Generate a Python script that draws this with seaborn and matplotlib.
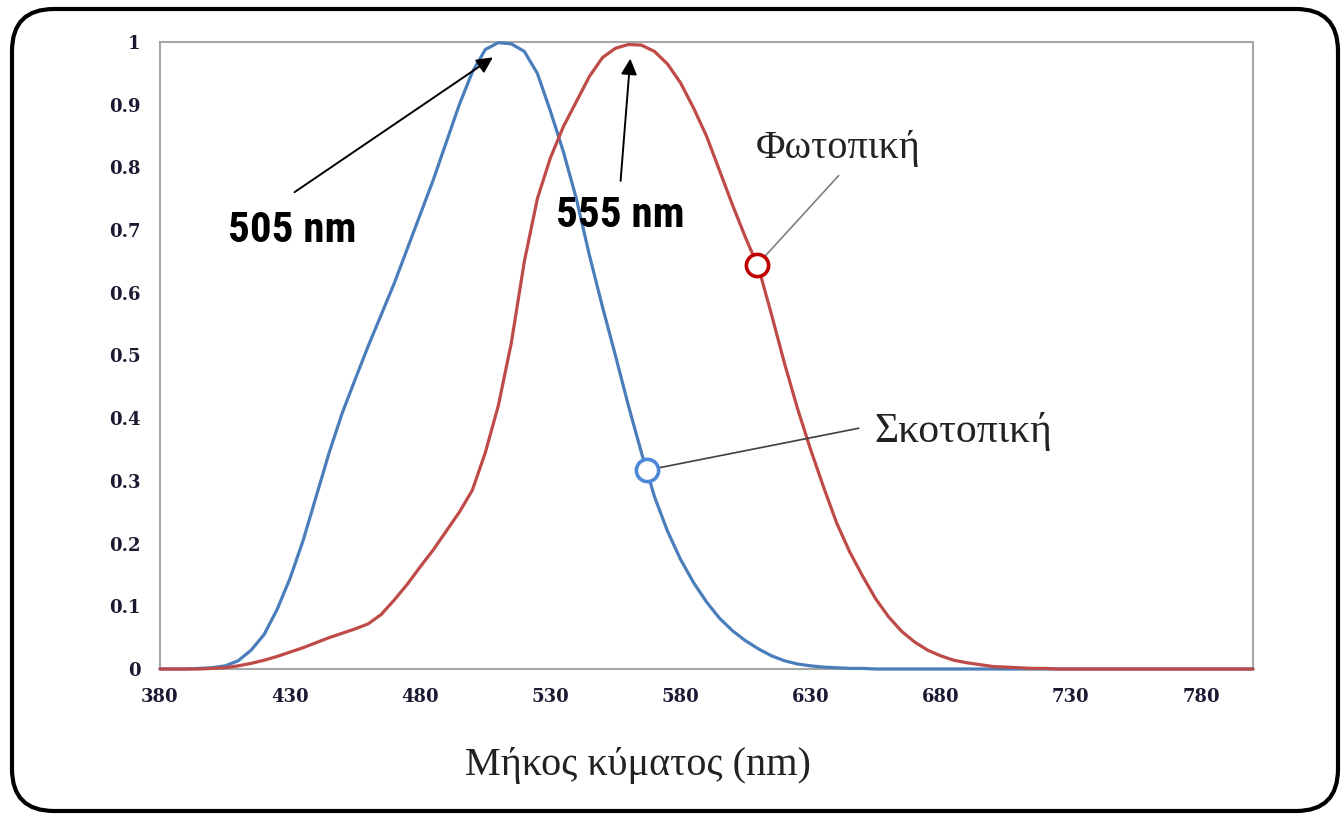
import numpy as np
import pandas as pd
import matplotlib
matplotlib.use("Agg")
import matplotlib.pyplot as plt
import seaborn as sns
from matplotlib import font_manager as fm
from matplotlib.patches import FancyBboxPatch

# wavelength grid (nm) and the two sensitivity curves
wavelength = list(range(380, 805, 5))
scotopic = [0, 0, 0, 0.001, 0.002, 0.005, 0.013, 0.03, 0.055, 0.095,
            0.145, 0.205, 0.275, 0.345, 0.408, 0.462, 0.515, 0.565, 0.615, 0.67,
            0.725, 0.78, 0.84, 0.9, 0.952, 0.988, 0.999, 0.997, 0.985, 0.95,
            0.89, 0.825, 0.75, 0.66, 0.578, 0.5, 0.42, 0.345, 0.275, 0.22,
            0.175, 0.138, 0.107, 0.081, 0.061, 0.045, 0.032, 0.021, 0.013, 0.008,
            0.005, 0.003, 0.002, 0.001, 0.001] + [0] * 30
photopic = [0, 0, 0, 0, 0.001, 0.002, 0.005, 0.009, 0.014, 0.02,
            0.027, 0.034, 0.042, 0.05, 0.057, 0.064, 0.072, 0.087, 0.11, 0.135,
            0.163, 0.19, 0.22, 0.25, 0.285, 0.345, 0.42, 0.52, 0.65, 0.75,
            0.815, 0.865, 0.905, 0.945, 0.975, 0.99, 0.996, 0.995, 0.985, 0.965,
            0.935, 0.895, 0.85, 0.795, 0.74, 0.688, 0.64, 0.565, 0.487, 0.415,
            0.35, 0.29, 0.233, 0.187, 0.148, 0.112, 0.083, 0.06, 0.043, 0.03,
            0.021, 0.014, 0.01, 0.007, 0.004, 0.003, 0.002, 0.001, 0.001] + [0] * 16

x_ticks = [380, 430, 480, 530, 580, 630, 680, 730, 780]
y_ticks = [0, 0.1, 0.2, 0.3, 0.4, 0.5, 0.6, 0.7, 0.8, 0.9, 1]
y_tick_labels = ["0", "0.1", "0.2", "0.3", "0.4", "0.5", "0.6", "0.7", "0.8", "0.9", "1"]

# circles marking each curve + peak arrows
scot_mark_wl = 567
phot_mark_wl = 609.5
peak_labels = ["505 nm", "555 nm"]

df = pd.DataFrame({
    "wl": wavelength * 2,
    "val": scotopic + photopic,
    "curve": ["Σκοτοπική"] * len(wavelength) + ["Φωτοπική"] * len(wavelength),
})

sns.set_style("white")
plt.rcParams["font.family"] = ["Liberation Serif", "DejaVu Serif"]

# narrow bold font for the peak labels, whatever is there
installed = {f.name for f in fm.fontManager.ttflist}
peak_font = dict(fontweight="bold", color="black", ha="center", va="center")
if "Roboto Condensed" in installed:
    peak_font.update(family=["Roboto Condensed", "DejaVu Sans"], fontsize=31)
elif "Liberation Sans Narrow" in installed:
    peak_font.update(family=["Liberation Sans Narrow", "DejaVu Sans"], fontsize=30)
else:
    peak_font.update(family=["Roboto", "DejaVu Sans"], fontsize=26)

BLUE = "#4a7ebb"
RED = "#be4b48"

fig = plt.figure(figsize=(13.42, 8.17), dpi=100)

# rounded frame around everything
bg = fig.add_axes([0, 0, 1, 1])
bg.set_xlim(0, 1342)
bg.set_ylim(0, 817)
bg.axis("off")
bg.add_patch(FancyBboxPatch((12, 6), 1326, 802, boxstyle="round,pad=0,rounding_size=42",
                            fc="white", ec="black", lw=3))

ax = fig.add_axes([160 / 1342, 1 - 669 / 817, 1093 / 1342, 627 / 817])
sns.lineplot(data=df, x="wl", y="val", hue="curve", palette={"Σκοτοπική": BLUE, "Φωτοπική": RED},
             linewidth=2.3, legend=False, ax=ax, clip_on=False, zorder=3)

ax.set_xlim(380, 800)
ax.set_ylim(0, 1)
ax.set_xticks(x_ticks)
ax.set_yticks(y_ticks)
ax.set_yticklabels(y_tick_labels)
for s in ax.spines.values():
    s.set_color("#a6a6a6")
    s.set_linewidth(1.5)
ax.tick_params(axis="both", direction="out", length=5, width=1.2, color="#a6a6a6",
               labelcolor="#1a1a33", labelsize=13, pad=9)
for lab in ax.get_xticklabels() + ax.get_yticklabels():
    lab.set_fontfamily(["DejaVu Serif"])
    lab.set_fontweight("bold")
ax.set_xlabel("Μήκος κύματος (nm)", fontsize=29, color="#222222")
ax.xaxis.set_label_coords((638 - 160) / 1093, -(765 - 669) / 627)
ax.xaxis.label.set_va("center")
ax.set_ylabel("")

# circles on curves
sy = np.interp(scot_mark_wl, wavelength, scotopic)
py = np.interp(phot_mark_wl, wavelength, photopic)
ax.plot([scot_mark_wl], [sy], "o", ms=16, mfc="white", mec="#4d88d6", mew=2.6, zorder=5)
ax.plot([phot_mark_wl], [py], "o", ms=16, mfc="white", mec="#c00000", mew=2.6, zorder=5)

# callouts
ax.annotate("", xy=(phot_mark_wl, py), xytext=(640.8, 0.787),
            arrowprops=dict(arrowstyle="-", color="#808080", lw=1.2, shrinkA=0, shrinkB=9))
ax.text(640.4, 0.83, "Φωτοπική", fontsize=29, color="#222222", ha="center", va="center")
ax.annotate("", xy=(scot_mark_wl, sy), xytext=(648.5, 0.384),
            arrowprops=dict(arrowstyle="-", color="#404040", lw=1.2, shrinkA=0, shrinkB=9))
ax.text(654.5, 0.378, "Σκοτοπική", fontsize=30, color="#222222", ha="left", va="center")

# peak arrows
ax.annotate("", xy=(508.8, 0.978), xytext=(430.8, 0.758),
            arrowprops=dict(arrowstyle="-|>", color="black", lw=1.4, mutation_scale=24))
ax.text(430.8, 0.699, peak_labels[0], **peak_font)
ax.annotate("", xy=(560.8, 0.978), xytext=(556.9, 0.774),
            arrowprops=dict(arrowstyle="-|>", color="black", lw=1.4, mutation_scale=24))
ax.text(556.9, 0.723, peak_labels[1], **peak_font)

fig.savefig("out.png", dpi=100)
